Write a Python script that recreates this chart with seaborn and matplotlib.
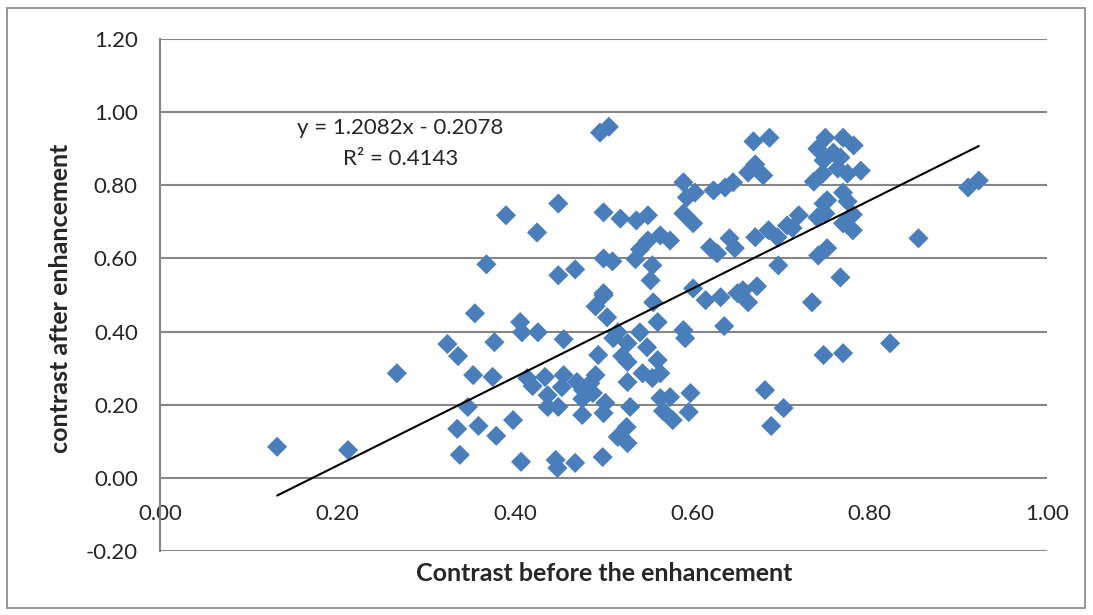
import numpy as np
import pandas as pd
import seaborn as sns
import matplotlib.pyplot as plt
from matplotlib.patches import Rectangle

# contrast values
before = [
    0.132, 0.212, 0.267,
    0.324, 0.336, 0.335, 0.338, 0.347, 0.353, 0.355, 0.359, 0.368, 0.375,
    0.377, 0.379, 0.390, 0.398, 0.406, 0.408, 0.407, 0.414, 0.420, 0.425,
    0.426, 0.434, 0.437, 0.437, 0.449, 0.449, 0.449, 0.446, 0.448,
    0.455, 0.455, 0.453, 0.468, 0.496, 0.506, 0.500, 0.500, 0.510, 0.519,
    0.537, 0.550, 0.536, 0.541, 0.550, 0.564, 0.575, 0.555, 0.553, 0.590,
    0.594, 0.590, 0.601, 0.603, 0.500, 0.601,
    0.500, 0.491, 0.556, 0.504, 0.561, 0.590, 0.592, 0.516, 0.511, 0.541,
    0.527, 0.549, 0.494, 0.521, 0.527, 0.561, 0.470, 0.491, 0.485, 0.477,
    0.488, 0.476, 0.527, 0.544, 0.555, 0.564, 0.502, 0.500, 0.530, 0.476,
    0.564, 0.575, 0.598, 0.567, 0.578, 0.596, 0.526, 0.516, 0.527, 0.499,
    0.468,
    0.615, 0.620, 0.628, 0.624, 0.637, 0.646, 0.632, 0.636, 0.642, 0.648,
    0.651, 0.657, 0.663, 0.673, 0.663, 0.671, 0.680, 0.669, 0.687, 0.671,
    0.686, 0.696, 0.707, 0.720, 0.697, 0.735, 0.741, 0.748, 0.742, 0.752,
    0.767, 0.750, 0.770, 0.782, 0.741, 0.748, 0.759, 0.767, 0.737, 0.747,
    0.764, 0.775, 0.790, 0.752, 0.770, 0.775, 0.750, 0.781, 0.770, 0.781,
    0.713,
    0.748, 0.770, 0.823, 0.855, 0.911, 0.923, 0.682, 0.703, 0.689,
]
after = [
    0.085, 0.076, 0.286,
    0.366, 0.333, 0.134, 0.063, 0.194, 0.281, 0.450, 0.142, 0.584, 0.276,
    0.371, 0.115, 0.718, 0.158, 0.426, 0.398, 0.044, 0.273, 0.251, 0.671,
    0.398, 0.276, 0.226, 0.194, 0.750, 0.554, 0.194, 0.049, 0.027,
    0.379, 0.281, 0.248, 0.570, 0.944, 0.960, 0.726, 0.600, 0.592, 0.709,
    0.704, 0.718, 0.598, 0.625, 0.649, 0.663, 0.649, 0.581, 0.540, 0.808,
    0.767, 0.723, 0.696, 0.780, 0.505, 0.518,
    0.499, 0.469, 0.480, 0.439, 0.426, 0.404, 0.382, 0.398, 0.382, 0.398,
    0.368, 0.357, 0.336, 0.333, 0.317, 0.322, 0.262, 0.281, 0.259, 0.240,
    0.232, 0.216, 0.262, 0.286, 0.273, 0.286, 0.205, 0.177, 0.194, 0.172,
    0.218, 0.221, 0.232, 0.183, 0.158, 0.180, 0.139, 0.112, 0.095, 0.057,
    0.041,
    0.486, 0.630, 0.614, 0.786, 0.794, 0.808, 0.494, 0.415, 0.655, 0.628,
    0.505, 0.513, 0.480, 0.524, 0.835, 0.857, 0.827, 0.920, 0.930, 0.658,
    0.677, 0.658, 0.690, 0.718, 0.581, 0.480, 0.712, 0.750, 0.608, 0.628,
    0.548, 0.930, 0.930, 0.909, 0.900, 0.868, 0.889, 0.876, 0.810, 0.832,
    0.846, 0.832, 0.840, 0.759, 0.780, 0.756, 0.723, 0.720, 0.696, 0.677,
    0.683,
    0.336, 0.341, 0.368, 0.655, 0.794, 0.813, 0.240, 0.191, 0.142,
]

# linear trend line as printed on the chart
slope = 1.2082
intercept = -0.2078
r2 = 0.4143

x_ticks = [0.0, 0.2, 0.4, 0.6, 0.8, 1.0]
y_ticks = [-0.2, 0.0, 0.2, 0.4, 0.6, 0.8, 1.0, 1.2]

df = pd.DataFrame({"before": before, "after": after})

sns.set_style("white")
plt.rcParams["font.family"] = ["Lato", "DejaVu Sans"]

fig = plt.figure(figsize=(10.93, 6.15), dpi=100)
ax = fig.add_axes([0.1464, 0.104, 0.958 - 0.1464, 0.9366 - 0.104])

grid_col = "#868686"
for yv in y_ticks:
    ax.axhline(yv, color=grid_col, lw=1.5, zorder=0)

sns.scatterplot(data=df, x="before", y="after", marker="D", s=105,
                color="#4A7EBB", edgecolor="none", linewidth=0, ax=ax, zorder=3)

xl = np.array([df["before"].min(), df["before"].max()])
trend = pd.DataFrame({"x": xl, "y": slope * xl + intercept})
sns.lineplot(data=trend, x="x", y="y", color="black", lw=1.5, ax=ax, zorder=4)

ax.set_xlim(0, 1.0)
ax.set_ylim(-0.2, 1.2)
ax.set_xticks(x_ticks)
ax.set_yticks(y_ticks)
ax.set_xticklabels(["{:.2f}".format(v) for v in x_ticks])
ax.set_yticklabels(["{:.2f}".format(v) for v in y_ticks])

for s in ["top", "right"]:
    ax.spines[s].set_visible(False)
ax.spines["left"].set_color(grid_col)
ax.spines["left"].set_linewidth(1.5)
ax.spines["bottom"].set_position(("data", 0))
ax.spines["bottom"].set_visible(False)

ax.tick_params(axis="y", length=0, pad=16, labelsize=16)
ax.tick_params(axis="x", length=0, pad=19, labelsize=16)

ax.set_xlabel("")
ax.set_ylabel("")
fig.text(0.553, 0.068, "Contrast before the enhancement", ha="center", va="center",
         fontsize=18, fontweight="bold")
fig.text(0.055, 0.515, "contrast after enhancement", ha="center", va="center",
         rotation=90, fontsize=18, fontweight="bold")

ax.text(0.271, 0.958, "y = 1.2082x - 0.2078", ha="center", va="center", fontsize=16)
ax.text(0.271, 0.871, "R² = {}".format(r2), ha="center", va="center", fontsize=16)

fig.patches.append(Rectangle((0.006, 0.012), 0.987, 0.975, transform=fig.transFigure,
                             fill=False, edgecolor="#868686", lw=1.2))

fig.savefig("out.png", dpi=100)
